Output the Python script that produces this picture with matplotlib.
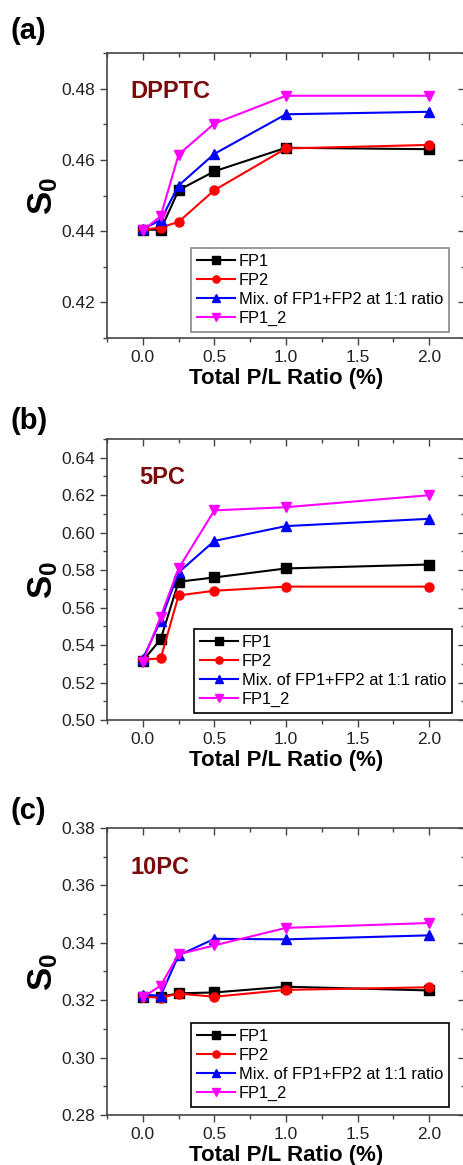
import numpy as np
import matplotlib
matplotlib.use("Agg")
import matplotlib.pyplot as plt
from matplotlib.ticker import MultipleLocator, FormatStrFormatter

plt.rcParams['font.family'] = ['Liberation Sans', 'DejaVu Sans']
plt.rcParams['mathtext.fontset'] = 'custom'
plt.rcParams['mathtext.rm'] = 'Liberation Sans'
plt.rcParams['mathtext.bf'] = 'Liberation Sans:bold'

# общая ось x
ratio = [0.0, 0.125, 0.25, 0.5, 1.0, 2.0]
series_names = ["FP1", "FP2", "Mix. of FP1+FP2 at 1:1 ratio", "FP1_2"]

# (a) DPPTC
dpptc_fp1 = [0.4404, 0.4404, 0.4515, 0.4568, 0.4634, 0.4630]
dpptc_fp2 = [0.4404, 0.4410, 0.4426, 0.4515, 0.4632, 0.4642]
dpptc_mix = [0.4406, 0.4431, 0.4528, 0.4617, 0.4728, 0.4735]
dpptc_fp1_2 = [0.4402, 0.4442, 0.4615, 0.4702, 0.4780, 0.4780]

# (b) 5PC
pc5_fp1 = [0.5315, 0.5432, 0.5738, 0.5761, 0.5809, 0.5830]
pc5_fp2 = [0.5322, 0.5329, 0.5665, 0.5690, 0.5712, 0.5712]
pc5_mix = [0.5327, 0.5531, 0.5788, 0.5956, 0.6035, 0.6074]
pc5_fp1_2 = [0.5310, 0.5552, 0.5809, 0.6119, 0.6136, 0.6200]

# (c) 10PC
pc10_fp1 = [0.3212, 0.3212, 0.3224, 0.3227, 0.3247, 0.3234]
pc10_fp2 = [0.3212, 0.3209, 0.3223, 0.3212, 0.3236, 0.3245]
pc10_mix = [0.3219, 0.3216, 0.3356, 0.3414, 0.3412, 0.3426]
pc10_fp1_2 = [0.3210, 0.3251, 0.3360, 0.3391, 0.3452, 0.3469]

colors = ["black", "#ff0000", "#0000ff", "#ff00ff"]
markers = ["s", "o", "^", "v"]


def draw_panel(fig, rect, data, ylim, ystep, name, letter, letter_y, name_xy, leg_anchor, leg_edge):
    ax = fig.add_axes(rect)
    for i in range(4):
        ax.plot(ratio, data[i], color=colors[i], marker=markers[i], markersize=6.5,
                linewidth=1.5, label=series_names[i])
    ax.set_xlim(-0.25, 2.25)
    ax.set_ylim(*ylim)
    ax.xaxis.set_major_locator(MultipleLocator(0.5))
    ax.xaxis.set_minor_locator(MultipleLocator(0.25))
    ax.yaxis.set_major_locator(MultipleLocator(ystep))
    ax.yaxis.set_minor_locator(MultipleLocator(ystep / 2))
    ax.xaxis.set_major_formatter(FormatStrFormatter('%.1f'))
    ax.yaxis.set_major_formatter(FormatStrFormatter('%.2f'))
    ax.tick_params(which='both', direction='out', top=False, right=False,
                   color='#444444', labelsize=12.5, labelcolor='#222222')
    ax.tick_params(which='major', length=5, width=1)
    ax.tick_params(which='minor', length=3, width=1)
    # зеркальные тики сверху и справа смотрят внутрь
    ax.tick_params(which='both', top=True, right=True, labeltop=False, labelright=False)
    for t in ax.xaxis.get_major_ticks() + ax.xaxis.get_minor_ticks():
        t.tick2line.set_marker(matplotlib.markers.TICKDOWN)
    for t in ax.yaxis.get_major_ticks() + ax.yaxis.get_minor_ticks():
        t.tick2line.set_marker(matplotlib.markers.TICKLEFT)
    for sp in ax.spines.values():
        sp.set_color('#444444')
        sp.set_linewidth(1.2)
    ax.set_xlabel("Total P/L Ratio (%)", fontsize=16, fontweight='bold', labelpad=2)
    ax.set_ylabel(r"$\mathbf{S_0}$", fontsize=25, labelpad=1)
    ax.text(name_xy[0], name_xy[1], name, transform=fig.transFigure, color='#7a0a0a',
            fontsize=17, fontweight='bold', va='center', ha='left')
    fig.text(11 / 463, letter_y, letter, fontsize=21, fontweight='bold', va='center', ha='left')
    leg = ax.legend(loc='lower right', bbox_to_anchor=leg_anchor, bbox_transform=fig.transFigure,
                    borderaxespad=0, fontsize=11.8, handlelength=2.3, handletextpad=0.25,
                    labelspacing=0.25, fancybox=False, framealpha=1, borderpad=0.35,
                    markerscale=0.8)
    leg.get_frame().set_edgecolor(leg_edge)
    leg.get_frame().set_linewidth(1.2)
    return ax


fig = plt.figure(figsize=(4.63, 11.65), dpi=100)
H = 1165.0
W = 463.0

draw_panel(fig, [107 / W, 1 - 338 / H, 358 / W, 285 / H],
           [dpptc_fp1, dpptc_fp2, dpptc_mix, dpptc_fp1_2], (0.41, 0.49), 0.02,
           "DPPTC", "(a)", 1 - 31 / H, (130 / W, 1 - 91 / H), (449 / W, 1 - 332 / H), '#888888')

draw_panel(fig, [107 / W, 1 - 720 / H, 358 / W, 281 / H],
           [pc5_fp1, pc5_fp2, pc5_mix, pc5_fp1_2], (0.50, 0.65), 0.02,
           "5PC", "(b)", 1 - 421 / H, (139 / W, 1 - 478 / H), (452 / W, 1 - 713 / H), 'black')

draw_panel(fig, [107 / W, 1 - 1115 / H, 358 / W, 287 / H],
           [pc10_fp1, pc10_fp2, pc10_mix, pc10_fp1_2], (0.28, 0.38), 0.02,
           "10PC", "(c)", 1 - 811 / H, (131 / W, 1 - 867 / H), (449 / W, 1 - 1107 / H), 'black')

fig.savefig("out.png", dpi=100)
